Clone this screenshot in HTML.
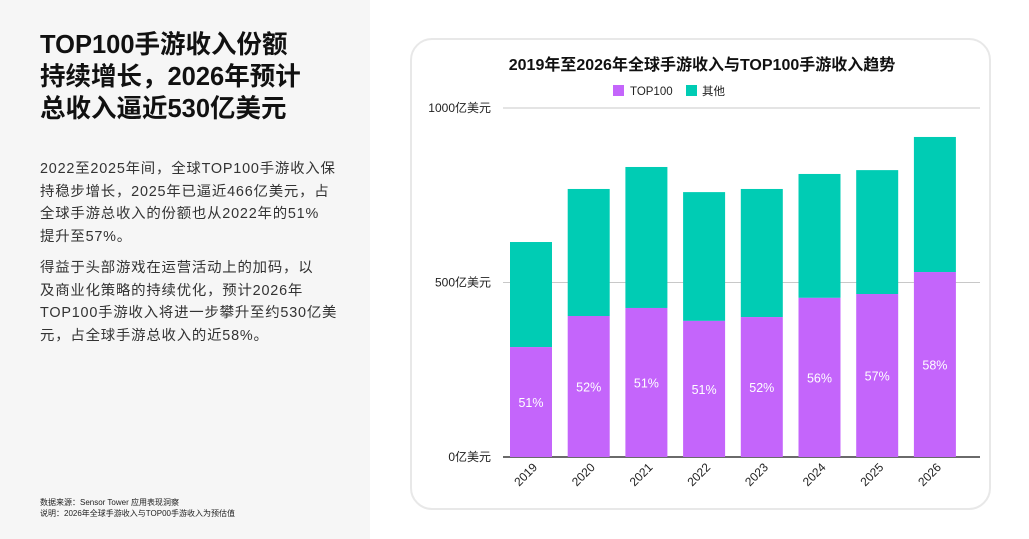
<!DOCTYPE html>
<html><head><meta charset="utf-8">
<style>
body{margin:0;width:1029px;height:539px;overflow:hidden;background:#fff;font-family:"Liberation Sans","Noto Sans CJK SC",sans-serif;position:relative}
#left{position:absolute;left:0;top:0;width:370px;height:539px;background:#f6f6f6}
h1{position:absolute;left:40px;top:29px;margin:0;font-size:25.5px;line-height:32px;font-weight:bold;color:#111;width:320px}
.p{position:absolute;left:40px;width:330px;font-size:14.4px;line-height:22.5px;color:#333;white-space:nowrap;letter-spacing:0.8px}
.note{position:absolute;left:40px;font-size:8px;color:#222}
#card{position:absolute;left:410px;top:38px;width:581px;height:472px;border:2px solid #e8e8e8;border-radius:22px;background:#fff;box-sizing:border-box}
svg{position:absolute;left:0;top:0}
</style></head><body>
<div id="left">
<h1>TOP100手游收入份额<br>持续增长，2026年预计<br>总收入逼近530亿美元</h1>
<div class="p" style="top:158px">2022至2025年间，全球TOP100手游收入保<br>持稳步增长，2025年已逼近466亿美元，占<br>全球手游总收入的份额也从2022年的51%<br>提升至57%。</div>
<div class="p" style="top:257px">得益于头部游戏在运营活动上的加码，以<br>及商业化策略的持续优化，预计2026年<br>TOP100手游收入将进一步攀升至约530亿美<br>元，占全球手游总收入的近58%。</div>
<div class="note" style="top:497px">数据来源：Sensor Tower 应用表现洞察</div>
<div class="note" style="top:508px">说明：2026年全球手游收入与TOP00手游收入为预估值</div>
</div>
<div id="card"></div>
<svg id="chart" width="1029" height="539">
<text x="702" y="70" text-anchor="middle" font-size="16" font-weight="bold" fill="#111">2019年至2026年全球手游收入与TOP100手游收入趋势</text>
<rect x="613" y="85" width="11" height="11" fill="#c465fb"/>
<text x="630" y="95" font-size="11.5" fill="#222">TOP100</text>
<rect x="686" y="85" width="11" height="11" fill="#00ccb4"/>
<text x="702" y="95" font-size="11.5" fill="#222">其他</text>
</svg>
<script>
const years=['2019','2020','2021','2022','2023','2024','2025','2026'];
const top100=[315,404,427,390,401,456,467,530];
const totals=[616,768,831,759,768,811,822,917];
const shares=['51%','52%','51%','51%','52%','56%','57%','58%'];
const yTicks=[0,500,1000];
const yTickLabels=['0亿美元','500亿美元','1000亿美元'];
const svg=document.getElementById('chart');
const NS='http://www.w3.org/2000/svg';
const y=v=>457-v*0.349;
const x=i=>531+i*57.7;
function mk(t,a){const e=document.createElementNS(NS,t);for(const k in a)e.setAttribute(k,a[k]);svg.appendChild(e);return e;}
yTicks.forEach((t,i)=>{
  const l=mk('line',{x1:503,x2:980,y1:y(t),y2:y(t),stroke:i==0?'#111':'#c8c8c8','stroke-width':i==0?1.2:1});
  
  
  const tx=mk('text',{x:491,y:y(t)+4,'text-anchor':'end','font-size':12,fill:'#222'});
  tx.textContent=yTickLabels[i];
  
  
});
years.forEach((yr,i)=>{
  const w=42,cx=x(i);
  const o=mk('rect',{x:cx-w/2,y:y(totals[i]),width:w,height:y(top100[i])-y(totals[i]),fill:'#00ccb4'});
  
  
  const b=mk('rect',{x:cx-w/2,y:y(top100[i]),width:w,height:y(0)-y(top100[i]),fill:'#c465fb'});
  
  
  const s=mk('text',{x:cx,y:(y(top100[i])+y(0))/2+5,'text-anchor':'middle','font-size':12.5,fill:'#fff'});
  s.textContent=shares[i];
  
  
  const t=mk('text',{x:cx+7,y:468,'text-anchor':'end','font-size':12,fill:'#222',transform:`rotate(-45 ${cx+7} 468)`});
  t.textContent=yr;
  
  
});
</script>
</body></html>
